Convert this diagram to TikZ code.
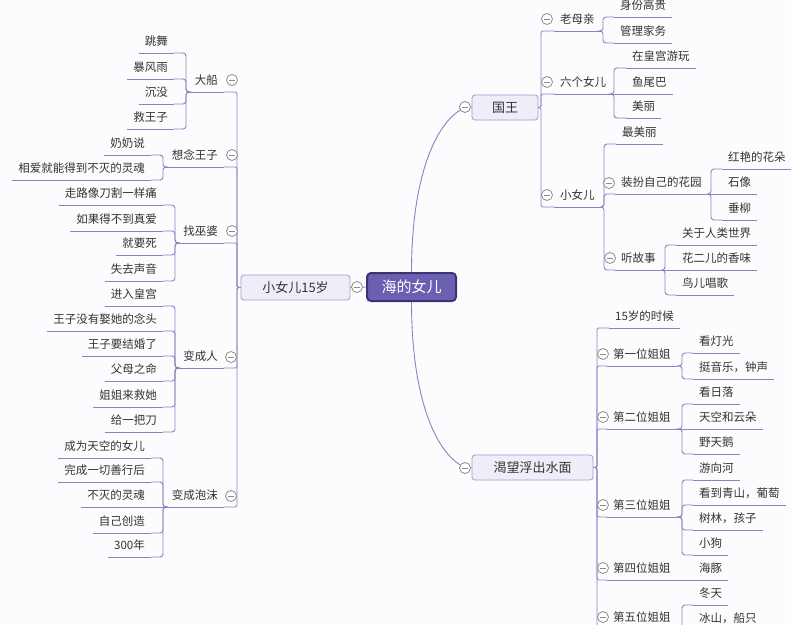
\documentclass[tikz,border=0pt]{standalone}
\usepackage{fontspec}
\setmainfont{Noto Sans CJK SC}
\usetikzlibrary{backgrounds}
\definecolor{lc}{HTML}{8A82C4}
\definecolor{tc}{HTML}{333333}
\definecolor{bfill}{HTML}{EFEDF8}
\definecolor{bdraw}{HTML}{A39BD3}
\definecolor{cfill}{HTML}{6A5FB0}
\definecolor{cdraw}{HTML}{3B3472}
\definecolor{bg}{HTML}{FCFCFE}
\definecolor{btnc}{HTML}{8C8C8C}
\tikzset{
  conn/.style={draw=lc, line width=0.9pt, rounded corners=3pt},
  connS/.style={draw=lc, line width=0.9pt, rounded corners=1.5pt},
  ul/.style={append after command={(\tikzlastnode.south west) edge[draw=lc, line width=0.9pt] (\tikzlastnode.south east)}},
  item/.style={font=\fontsize{11.5}{13}\selectfont, text=tc, inner xsep=6pt, inner ysep=5.1pt, text height=9pt, text depth=2.5pt, ul},
  itemR/.style={item, anchor=south west},
  itemL/.style={item, anchor=south east},
  topic/.style={draw=bdraw, fill=bfill, line width=0.8pt, rounded corners=3pt, font=\fontsize{13}{15}\selectfont, text=tc, minimum height=25pt, inner sep=0pt},
  central/.style={draw=cdraw, fill=cfill, line width=2pt, rounded corners=4pt, font=\fontsize{15}{17}\selectfont, text=white, minimum width=89pt, minimum height=28pt, inner sep=0pt},
  btn/.style={circle, draw=btnc, fill=white, line width=0.8pt, minimum size=11pt, inner sep=0pt, path picture={\draw[btnc, line width=0.8pt] ([xshift=2.5pt]path picture bounding box.west) -- ([xshift=-2.5pt]path picture bounding box.east);}}
}
\begin{document}
\begin{tikzpicture}[x=1pt,y=-1pt]
\useasboundingbox (0,0) rectangle (791,624);
\begin{scope}[on background layer]
\fill[bg] (0,0) rectangle (791,624);
\end{scope}

% main topics
\node[central] (C) at (411.5,287) {海的女儿};
\node[topic, minimum width=109pt] (L) at (295.5,287.5) {小女儿15岁};
\node[topic, minimum width=66pt] (K) at (505,107.5) {国王};
\node[topic, minimum width=121pt] (W) at (532.5,467.5) {渴望浮出水面};

% bracket coordinates
\coordinate (xK) at (541,0);
\coordinate (xK1) at (603,0);
\coordinate (xK2) at (614,0);
\coordinate (xK3) at (604,0);
\coordinate (xK32) at (711,0);
\coordinate (xK33) at (665,0);
\coordinate (xW) at (597,0);
\coordinate (xWc) at (682,0);
\coordinate (xL) at (237,0);
\coordinate (xL1) at (186,0);
\coordinate (xL2) at (163,0);
\coordinate (xL3) at (175,0);
\coordinate (xL4) at (175,0);
\coordinate (xL5) at (163,0);

% King subtree
\node[itemR] (k1) at (554,31) {老母亲};
\node[itemR] (k2) at (554,94) {六个女儿};
\node[itemR] (k3) at (554,207) {小女儿};
\node[itemR] (k11) at (614,17) {身份高贵};
\node[itemR] (k12) at (614,43) {管理家务};
\node[itemR] (k21) at (626,68) {在皇宫游玩};
\node[itemR] (k22) at (626,94) {鱼尾巴};
\node[itemR] (k23) at (626,118) {美丽};
\node[itemR] (k31) at (616,144) {最美丽};
\node[itemR] (k32) at (615,194) {装扮自己的花园};
\node[itemR] (k33) at (615,270) {听故事};
\node[itemR] (k321) at (722,169) {红艳的花朵};
\node[itemR] (k322) at (722,194) {石像};
\node[itemR] (k323) at (722,220) {垂柳};
\node[itemR] (k331) at (676,245) {关于人类世界};
\node[itemR] (k332) at (676,270) {花二儿的香味};
\node[itemR] (k333) at (676,295) {鸟儿唱歌};

% Wish subtree
\node[itemR] (w1) at (609,328) {15岁的时候};
\node[itemR] (w2) at (607,366) {第一位姐姐};
\node[itemR] (w3) at (607,429) {第二位姐姐};
\node[itemR] (w4) at (607,517) {第三位姐姐};
\node[itemR] (w5) at (607,580) {第四位姐姐};
\node[itemR] (w6) at (607,629) {第五位姐姐};
\node[itemR] (w21) at (693,353) {看灯光};
\node[itemR] (w22) at (693,379) {挺音乐，钟声};
\node[itemR] (w31) at (693,404) {看日落};
\node[itemR] (w32) at (693,429) {天空和云朵};
\node[itemR] (w33) at (693,454) {野天鹅};
\node[itemR] (w41) at (693,480) {游向河};
\node[itemR] (w42) at (693,505) {看到青山，葡萄};
\node[itemR] (w43) at (693,530) {树林，孩子};
\node[itemR] (w44) at (693,555) {小狗};
\node[itemR] (w51) at (693,580) {海豚};
\node[itemR] (w61) at (693,605) {冬天};
\node[itemR] (w62) at (693,630) {冰山，船只};

% Left subtree
\node[itemL] (l1) at (224,92) {大船};
\node[itemL] (l2) at (224,167) {想念王子};
\node[itemL] (l3) at (224,243) {找巫婆};
\node[itemL] (l4) at (224,368) {变成人};
\node[itemL] (l5) at (224,507) {变成泡沫};
\node[itemL] (l11) at (174,53) {跳舞};
\node[itemL] (l12) at (174,79) {暴风雨};
\node[itemL] (l13) at (174,104) {沉没};
\node[itemL] (l14) at (174,129) {救王子};
\node[itemL] (l21) at (151,155) {奶奶说};
\node[itemL] (l22) at (151,180) {相爱就能得到不灭的灵魂};
\node[itemL] (l31) at (163,205) {走路像刀割一样痛};
\node[itemL] (l32) at (163,231) {如果得不到真爱};
\node[itemL] (l33) at (163,255) {就要死};
\node[itemL] (l34) at (163,281) {失去声音};
\node[itemL] (l41) at (163,306) {进入皇宫};
\node[itemL] (l42) at (163,331) {王子没有娶她的念头};
\node[itemL] (l43) at (163,356) {王子要结婚了};
\node[itemL] (l44) at (163,381) {父母之命};
\node[itemL] (l45) at (163,407) {姐姐来救她};
\node[itemL] (l46) at (163,432) {给一把刀};
\node[itemL] (l51) at (151,458) {成为天空的女儿};
\node[itemL] (l52) at (151,482) {完成一切善行后};
\node[itemL] (l53) at (151,507) {不灭的灵魂};
\node[itemL] (l54) at (151,533) {自己创造};
\node[itemL] (l55) at (151,557) {300年};

% collapse buttons
\node[btn] (bC) at (357,287) {};
\node[btn] (bK) at (465,107) {};
\node[btn] (bW) at (465,468) {};
\node[btn] (bk1) at (547,19) {};
\node[btn] (bk2) at (547,82) {};
\node[btn] (bk3) at (547,195) {};
\node[btn] (bk32) at (609,183) {};
\node[btn] (bk33) at (610,258) {};
\node[btn] (bw2) at (603,354) {};
\node[btn] (bw3) at (603,417) {};
\node[btn] (bw4) at (603,505) {};
\node[btn] (bw5) at (603,568) {};
\node[btn] (bw6) at (603,617) {};
\node[btn] (bl1) at (232,80) {};
\node[btn] (bl2) at (232,155) {};
\node[btn] (bl3) at (232,231) {};
\node[btn] (bl4) at (231,357) {};
\node[btn] (bl5) at (231,496) {};

\begin{scope}[on background layer]
% central connectors
\draw[conn] (C.west) -- (L.east);
\draw[conn] (C.north) .. controls (411.5,185) and (432,128) .. (bK);
\draw[conn] (C.south) .. controls (411.5,390) and (432,447) .. (bW);
\draw[conn] (bK) -- (K.west);
\draw[conn] (bW) -- (W.west);
% King
\foreach \n in {k1,k2,k3} \draw[connS] (K.east) -- (K.east -| xK) |- (\n.south west);
\foreach \n in {k11,k12} \draw[conn] (k1.south east) -- (k1.south east -| xK1) |- (\n.south west);
\foreach \n in {k21,k23} \draw[conn] (k2.south east) -- (k2.south east -| xK2) |- (\n.south west);
\draw[conn] (k2.south east) -- (k22.south west);
\foreach \n in {k31,k32,k33} \draw[conn] (k3.south east) -- (k3.south east -| xK3) |- (\n.south west);
\foreach \n in {k321,k323} \draw[conn] (k32.south east) -- (k32.south east -| xK32) |- (\n.south west);
\draw[conn] (k32.south east) -- (k322.south west);
\foreach \n in {k331,k333} \draw[conn] (k33.south east) -- (k33.south east -| xK33) |- (\n.south west);
\draw[conn] (k33.south east) -- (k332.south west);
% Wish
\foreach \n in {w1,w2,w3,w4,w5,w6} \draw[connS] (W.east) -- (W.east -| xW) |- (\n.south west);
\foreach \n in {w21,w22} \draw[conn] (w2.south east) -- (w2.south east -| xWc) |- (\n.south west);
\foreach \n in {w31,w33} \draw[conn] (w3.south east) -- (w3.south east -| xWc) |- (\n.south west);
\draw[conn] (w3.south east) -- (w32.south west);
\foreach \n in {w41,w42,w43,w44} \draw[conn] (w4.south east) -- (w4.south east -| xWc) |- (\n.south west);
\draw[conn] (w5.south east) -- (w51.south west);
\foreach \n in {w61,w62} \draw[conn] (w6.south east) -- (w6.south east -| xWc) |- (\n.south west);
% Left
\foreach \n in {l1,l2,l3,l4,l5} \draw[connS] (L.west) -- (L.west -| xL) |- (\n.south east);
\foreach \n in {l11,l12,l13,l14} \draw[conn] (l1.south west) -- (l1.south west -| xL1) |- (\n.south east);
\foreach \n in {l21,l22} \draw[conn] (l2.south west) -- (l2.south west -| xL2) |- (\n.south east);
\foreach \n in {l31,l32,l33,l34} \draw[conn] (l3.south west) -- (l3.south west -| xL3) |- (\n.south east);
\foreach \n in {l41,l42,l43,l44,l45,l46} \draw[conn] (l4.south west) -- (l4.south west -| xL4) |- (\n.south east);
\foreach \n in {l51,l52,l54,l55} \draw[conn] (l5.south west) -- (l5.south west -| xL5) |- (\n.south east);
\draw[conn] (l5.south west) -- (l53.south east);
\end{scope}
\end{tikzpicture}
\end{document}
